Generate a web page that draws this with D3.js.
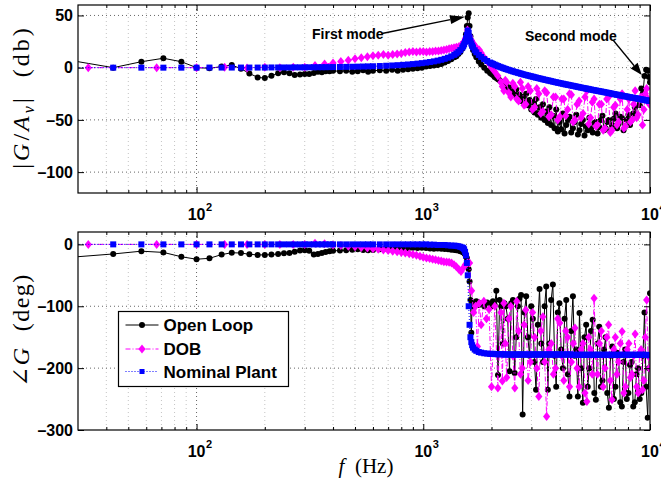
<!DOCTYPE html>
<html lang="en">
<head>
<meta charset="utf-8">
<title>Bode plot: Open Loop / DOB / Nominal Plant</title>
<script src="https://cdn.jsdelivr.net/npm/d3@7"></script>
<style>
  body { margin: 0; background: #fff; }
  svg text { font-family: "Liberation Sans", Arial, sans-serif; }
  .tick text { font-size: 16px; font-weight: bold; fill: #000; }
  .math { font-family: "Liberation Serif", "DejaVu Serif", serif; }
</style>
</head>
<body>
<script>
// frequency grid of the open loop measurement and nominal model (Hz)
const freqPlant = [28.6, 42.9, 57.1, 71.4, 85.7, 100, 114, 129, 143, 157,
  171, 186, 200, 214, 229, 243, 257, 271, 286, 300,
  314, 329, 343, 357, 371, 386, 400, 429, 457, 486,
  514, 543, 571, 600, 643, 686, 729, 771, 814, 857,
  900, 943, 986, 1029, 1071, 1114, 1157, 1200, 1243, 1286,
  1329, 1371, 1400, 1429, 1457, 1486, 1500, 1514, 1529, 1543,
  1557, 1571, 1586, 1600, 1614, 1629, 1643, 1657, 1686, 1714,
  1757, 1800, 1857, 1914,
  1971, 2000, 2029, 2064, 2100, 2136, 2171, 2207, 2243, 2279,
  2314, 2357, 2400, 2443, 2486, 2529, 2571, 2614, 2657, 2700,
  2743, 2793, 2843, 2893, 2943, 2993, 3043, 3093, 3143, 3200,
  3257, 3314, 3371, 3429, 3486, 3543, 3600, 3664, 3729, 3793,
  3857, 3921, 3986, 4057, 4129, 4200, 4271, 4343, 4414, 4493,
  4571, 4650, 4729, 4807, 4886, 4971, 5057, 5143, 5229, 5314,
  5400, 5493, 5586, 5679, 5771, 5871, 5971, 6071, 6171, 6271,
  6371, 6479, 6586, 6700, 6814, 6929, 7043, 7157, 7271, 7393,
  7514, 7643, 7771, 7900, 8029, 8164, 8300, 8436, 8571, 8714,
  8857, 9007, 9157, 9307, 9457, 9614, 9771, 9886, 10000];

// |G/Av| in dB
const magOpen = [6.5, 0, 5.7, 9, 5.7, 0, -0.6, 1, 2.5, -1,
  -5.5, -9.3, -10, -7.7, -5.4, -4.5, -5.4, -7, -6.5, -6,
  -6, -5, -4, -4.5, -3.5, -3.5, -3, -3.5, -3, -4,
  -3.5, -2.5, -4, -3, -2.5, -3, -2, -3, -2, -1.5,
  -1, -0.5, 0, 1, 1.5, 2, 2.5, 3.5, 5, 6.5,
  8, 10, 11, 13, 15, 18, 20, 22, 26, 32,
  40, 48, 52, 40, 30, 24, 20, 17, 13, 10,
  6, 3, 0, -3,
  -5, -6, -7, -9, -10, -11, -12, -13.5, -14, -17,
  -16, -20, -19, -23, -22, -26, -21, -29, -26, -32,
  -28, -34, -25, -36, -31, -40, -33, -43, -30, -45,
  -38, -48, -35, -50, -42, -53, -38, -55, -46, -58,
  -40, -61, -52, -59, -44, -63, -55, -50, -47, -62,
  -58, -52, -45, -64, -60, -54, -50, -65, -56, -60,
  -48, -58, -62, -53, -52, -63, -57, -50, -46, -60,
  -58, -52, -50, -61, -55, -49, -44, -58, -54, -47,
  -48, -60, -56, -50, -45, -55, -50, -44, -38, -45,
  -30, -36, -20, -25, -8, -2, -3, -9, -14];

const magNom = [0, 0, 0, 0, 0, 0, 0.1, 0.1, 0.1, 0.1,
  0.1, 0.1, 0.1, 0.2, 0.2, 0.2, 0.2, 0.3, 0.3, 0.3,
  0.35, 0.4, 0.42, 0.45, 0.5, 0.55, 0.58, 0.67, 0.76, 0.87,
  0.98, 1.1, 1.22, 1.36, 1.58, 1.83, 2.09, 2.38, 2.7, 3.05,
  3.43, 3.86, 4.32, 4.84, 5.39, 6.02, 6.74, 7.54, 8.48, 9.54,
  10.8, 12.3, 13.6, 15.1, 16.8, 19.2, 20.6, 22.4, 24.8, 27.9,
  31.2, 35.6, 33.5, 28.9, 25.6, 23.1, 21.1, 19.4, 16.7, 14.7,
  12.2, 10.3, 8.2, 6.4,
  4.9, 4.2, 3.6, 2.9, 2.2, 1.5, 0.9, 0.3, -0.2, -0.8,
  -1.3, -1.9, -2.4, -3.0, -3.5, -4.0, -4.4, -4.9, -5.3, -5.8,
  -6.2, -6.7, -7.1, -7.5, -7.9, -8.3, -8.7, -9.1, -9.5, -9.9,
  -10.3, -10.7, -11.1, -11.5, -11.8, -12.2, -12.5, -12.9, -13.3, -13.7,
  -14.0, -14.4, -14.7, -15.1, -15.4, -15.8, -16.1, -16.4, -16.7, -17.1,
  -17.4, -17.7, -18.1, -18.4, -18.7, -19.1, -19.4, -19.7, -20.0, -20.3,
  -20.6, -21.0, -21.3, -21.6, -21.9, -22.2, -22.5, -22.8, -23.1, -23.4,
  -23.7, -24.0, -24.3, -24.6, -25.0, -25.3, -25.6, -25.9, -26.2, -26.5,
  -26.8, -27.1, -27.4, -27.7, -28.0, -28.3, -28.6, -28.9, -29.1, -29.4,
  -29.7, -30.0, -30.3, -30.6, -30.9, -31.2, -31.5, -31.7, -31.9];

// phase in degrees
const phaseOpen = [-20.5, -15.5, -11, -13, -20, -24, -22.5, -16.5, -13.5, -14,
  -16, -17, -17, -16.5, -15.5, -14.5, -14, -12, -10, -9.5,
  -10.5, -16.5, -15.5, -14, -12.5, -11, -10.5, -10, -9.5, -8.5,
  -8, -9, -9.5, -9, -8, -7, -6.5, -7, -6, -6.5,
  -5.5, -6, -5.5, -6, -6.5, -7, -6.5, -7, -7.5, -8,
  -8.5, -9, -9.5, -10, -11, -12, -13, -14, -16, -20,
  -22, -28, -40, -60, -90, -143, -95, -100, -96, -92,
  -98, -95, -100, -94,
  -96, -100, -92, -98, -75, -211, -90, -100, -160, -95,
  -100, -120, -205, -95, -90, -208, -150, -100, -88, -82,
  -275, -110, -84, -150, -180, -100, -120, -190, -235, -130,
  -72, -160, -190, -100, -68, -235, -160, -90, -65, -180,
  -230, -110, -95, -170, -200, -120, -90, -210, -246, -140,
  -84, -180, -170, -246, -111, -200, -256, -150, -130, -230,
  -200, -140, -122, -240, -251, -160, -133, -230, -220, -170,
  -150, -240, -264, -180, -165, -250, -230, -175, -180, -255,
  -262, -190, -170, -250, -240, -195, -190, -262, -255, -210,
  -200, -250, -240, -180, -110, -230, -280, -200, -79];

const phaseNom = [0, 0, 0, 0, 0, 0, 0, 0, 0, 0,
  0, 0, 0, 0, 0, 0, 0, 0, 0, 0,
  0, 0, 0, 0, 0, 0, 0, 0, 0, 0,
  0, 0, 0, 0, 0, 0, 0, 0, 0, 0,
  0, 0, 0, 0, -0.5, -0.5, -1, -1, -1, -1.5,
  -2, -2, -2.5, -3, -4, -5, -6, -8, -12, -18,
  -30, -50, -100, -130, -150, -158, -163, -167, -170, -172,
  -174, -175, -176, -176.5,
  -177, -177, -177, -177, -177.5, -177.5, -177.5, -177.5, -177.5, -178,
  -178, -178, -178, -178, -178, -178, -178, -178, -178, -178,
  -178, -178, -178, -178, -178, -178, -178, -178, -178, -178,
  -178, -178, -178, -178, -178, -178, -178, -178, -178, -178,
  -178, -178, -178, -178, -178, -178, -178, -178, -178, -178,
  -178.5, -178.5, -178.5, -178.5, -178.5, -178.5, -178.5, -178.5, -178.5, -178.5,
  -178.5, -178.5, -178.5, -178.5, -178.5, -178.5, -178.5, -178.5, -178.5, -178.5,
  -178.5, -178.5, -178.5, -178.5, -178.5, -178.5, -178.5, -178.5, -178.5, -178.5,
  -178.5, -178.5, -178.5, -178.5, -178.5, -178.5, -178.5, -178.5, -178.5, -178.5,
  -178.5, -178.5, -178.5, -178.5, -178.5, -178.5, -179, -179, -179];

// DOB measurement has its own frequency grid
const freqDob = [33.3, 66.7, 100, 133, 167, 200, 233, 267, 300, 333,
  367, 400, 433, 467, 500, 533, 567, 600, 633, 667,
  700, 733, 767, 800, 833, 867, 900, 933, 967, 1000,
  1033, 1067, 1100, 1133, 1167, 1200, 1233, 1267, 1300, 1333,
  1367, 1400, 1433, 1467, 1500, 1533, 1567, 1600, 1633, 1667,
  1700, 1733, 1767, 1800, 1850, 1900, 1950, 2000, 2067, 2133,
  2200, 2233, 2267, 2300, 2333, 2383, 2433, 2483, 2533, 2583,
  2633, 2683, 2733, 2783, 2833, 2900, 2967, 3033, 3100, 3167,
  3233, 3300, 3367, 3433, 3500, 3583, 3667, 3750, 3833, 3917,
  4000, 4083, 4167, 4250, 4333, 4417, 4500, 4583, 4667, 4767,
  4867, 4967, 5067, 5167, 5267, 5367, 5467, 5567, 5667, 5767,
  5867, 5983, 6100, 6217, 6333, 6450, 6567, 6683, 6800, 6917,
  7033, 7150, 7267, 7400, 7533, 7667, 7800, 7933, 8067, 8200,
  8333, 8467, 8600, 8733, 8867, 9000, 9133, 9267, 9400, 9533,
  9667, 9800, 9933];

const magDob = [0, 0, 0, 0.3, -0.3, 0.3, 0, 0.5, 0.5, 2,
  3.5, 4.5, 6, 7, 8.5, 9.5, 10.5, 11.5, 12, 12.5,
  12, 12.5, 13, 13.5, 14.5, 15, 15.5, 15, 15.5, 15.5,
  15, 15.5, 15.5, 16, 16, 16.5, 17, 17.5, 18, 18.5,
  19, 19.5, 20, 21.5, 24, 28, 36, 30, 26, 23,
  20, 18, 17, 14, 10, 7, 4, 0, -4, -8,
  -14, -18, -22, -12, -14, -24, -28, -15, -18, -30,
  -32, -14, -20, -36, -35, -18, -22, -40, -38, -20,
  -25, -44, -42, -22, -24, -47, -45, -28, -28, -50,
  -47, -30, -30, -46, -40, -25, -26, -52, -50, -35,
  -32, -48, -44, -28, -22, -54, -48, -33, -30, -56,
  -55, -35, -35, -60, -58, -30, -28, -62, -60, -38,
  -36, -55, -52, -30, -25, -58, -56, -40, -30, -52,
  -50, -35, -22, -48, -45, -30, -28, -55, -40, -25,
  -20, -30, -35];

const phaseDob = [0, 0, 0, 0, 0, 0, 0, 0, 0, 2,
  1, -1, -2, -3, -4, -5, -6, -7, -8, -9,
  -10, -11, -12, -13, -14, -15, -16.5, -17.5, -19, -21,
  -22, -23, -24, -25, -26, -27, -28, -28.5, -29, -30,
  -33, -36, -40, -44, -38, -33, -30, -30, -75, -110,
  -100, -165, -95, -130, -92, -120, -105, -230, -100, -232,
  -110, -221, -95, -160, -215, -120, -100, -180, -232, -92,
  -140, -210, -200, -130, -106, -220, -190, -110, -150, -200,
  -246, -140, -117, -190, -278, -170, -160, -210, -200, -120,
  -127, -180, -220, -140, -150, -230, -190, -160, -135, -200,
  -230, -170, -160, -240, -254, -150, -170, -210, -87, -180,
  -210, -160, -140, -230, -200, -150, -130, -220, -251, -170,
  -150, -210, -190, -160, -141, -240, -230, -170, -160, -215,
  -210, -180, -145, -230, -240, -175, -170, -235, -220, -150,
  -90, -180, -200];

const magTicks = [50, 0, -50, -100];
const phaseTicks = [0, -100, -200, -300];
const decadeTicks = [100, 1000, 10000];
const seriesNames = ["Open Loop", "DOB", "Nominal Plant"];

// ----------------------------------------------------------------
const W = 661, H = 479;
const left = 78, right = 650;

const svg = d3.select("body").append("svg")
  .attr("width", W).attr("height", H);

const x = d3.scaleLog().domain([30, 10000]).range([left, right]);

const plant = freqPlant.map((f, i) => ({
  f, mo: magOpen[i], mn: magNom[i], po: phaseOpen[i], pn: phaseNom[i]
}));
const dob = freqDob.map((f, i) => ({ f, m: magDob[i], p: phaseDob[i] }));

// minor decade positions (2..9 x 10^k) inside the range
const minorX = [];
for (let d = 10; d < 10000; d *= 10) {
  for (let k = 2; k <= 9; k++) {
    const v = d * k;
    if (v > 30 && v < 10000) minorX.push(v);
  }
}

const diamond = "M0,-4.5L3.6,0L0,4.5L-3.6,0Z";

function fmtTick(d) {
  return d < 0 ? "\u2013" + Math.abs(d) : String(d);
}

function drawPanel(cfg) {
  const y = d3.scaleLinear().domain(cfg.domain).range([cfg.bottom, cfg.top]);
  const g = svg.append("g");

  const clipId = "clip-" + cfg.name;
  svg.append("clipPath").attr("id", clipId)
    .append("rect")
    .attr("x", left).attr("y", cfg.top)
    .attr("width", right - left).attr("height", cfg.bottom - cfg.top);

  // grid
  g.selectAll(".gminor").data(minorX).join("line")
    .attr("class", "gminor")
    .attr("x1", d => x(d)).attr("x2", d => x(d))
    .attr("y1", cfg.top).attr("y2", cfg.bottom)
    .attr("stroke", "#c4c4c4").attr("stroke-dasharray", "1,3");
  g.selectAll(".gmajor").data([100, 1000]).join("line")
    .attr("class", "gmajor")
    .attr("x1", d => x(d)).attr("x2", d => x(d))
    .attr("y1", cfg.top).attr("y2", cfg.bottom)
    .attr("stroke", "#666").attr("stroke-dasharray", "1,3");
  g.selectAll(".gy").data(cfg.ticks.filter(t => y(t) > cfg.top + 1 && y(t) < cfg.bottom - 1)).join("line")
    .attr("class", "gy")
    .attr("x1", left).attr("x2", right)
    .attr("y1", d => y(d)).attr("y2", d => y(d))
    .attr("stroke", "#666").attr("stroke-dasharray", "1,3");

  // data
  const area = g.append("g").attr("clip-path", `url(#${clipId})`);

  const lineOpen = d3.line().x(d => x(d.f)).y(d => y(d[cfg.keyOpen]));
  const lineDob = d3.line().x(d => x(d.f)).y(d => y(d[cfg.keyDob]));
  const lineNom = d3.line().x(d => x(d.f)).y(d => y(d[cfg.keyNom]));

  area.append("path").datum(plant).attr("d", lineOpen)
    .attr("fill", "none").attr("stroke", "#000").attr("stroke-width", 1);
  area.selectAll(".mo").data(plant).join("circle")
    .attr("class", "mo")
    .attr("cx", d => x(d.f)).attr("cy", d => y(d[cfg.keyOpen]))
    .attr("r", 3).attr("fill", "#000");

  area.append("path").datum(dob).attr("d", lineDob)
    .attr("fill", "none").attr("stroke", "#ff00ff").attr("stroke-width", 1)
    .attr("stroke-dasharray", "5,2,1,2");
  area.selectAll(".md").data(dob).join("path")
    .attr("class", "md")
    .attr("transform", d => `translate(${x(d.f)},${y(d[cfg.keyDob])})`)
    .attr("d", diamond).attr("fill", "#ff00ff");

  area.append("path").datum(plant).attr("d", lineNom)
    .attr("fill", "none").attr("stroke", "#0000ff").attr("stroke-width", 1)
    .attr("stroke-dasharray", "1,2");
  area.selectAll(".mn").data(plant).join("rect")
    .attr("class", "mn")
    .attr("x", d => x(d.f) - 3).attr("y", d => y(d[cfg.keyNom]) - 3)
    .attr("width", 6).attr("height", 6).attr("fill", "#0000ff");

  // inward ticks on all four sides
  const tick = (axis, tr) => g.append("g").attr("transform", tr).call(axis)
    .call(s => s.select(".domain").remove());
  tick(d3.axisBottom(x).tickValues(decadeTicks).tickSize(-6).tickFormat(""), `translate(0,${cfg.bottom})`);
  tick(d3.axisBottom(x).tickValues(minorX).tickSize(-3).tickFormat(""), `translate(0,${cfg.bottom})`);
  tick(d3.axisTop(x).tickValues(decadeTicks).tickSize(-6).tickFormat(""), `translate(0,${cfg.top})`);
  tick(d3.axisTop(x).tickValues(minorX).tickSize(-3).tickFormat(""), `translate(0,${cfg.top})`);
  tick(d3.axisLeft(y).tickValues(cfg.ticks).tickSize(-6).tickPadding(5).tickFormat(fmtTick), `translate(${left},0)`);
  tick(d3.axisRight(y).tickValues(cfg.ticks).tickSize(-6).tickFormat(""), `translate(${right},0)`);

  // decade labels 10^n
  const lab = g.selectAll(".xl").data(decadeTicks).join("g")
    .attr("class", "xl")
    .attr("transform", d => `translate(${x(d)},${cfg.bottom + cfg.labelDy})`);
  lab.append("text").attr("text-anchor", "middle")
    .style("font-size", "16px").style("font-weight", "bold")
    .text("10");
  lab.append("text").attr("x", 9.5).attr("y", -9)
    .style("font-size", "11px").style("font-weight", "bold")
    .text(d => Math.round(Math.log10(d)));

  // box
  g.append("rect")
    .attr("x", left).attr("y", cfg.top)
    .attr("width", right - left).attr("height", cfg.bottom - cfg.top)
    .attr("fill", "none").attr("stroke", "#000").attr("stroke-width", 1.2);

  return y;
}

const yMag = drawPanel({
  name: "mag", top: 5, bottom: 193, domain: [-120, 60], ticks: magTicks,
  keyOpen: "mo", keyDob: "m", keyNom: "mn", labelDy: 27
});
const yPh = drawPanel({
  name: "ph", top: 232, bottom: 430, domain: [-300, 20], ticks: phaseTicks,
  keyOpen: "po", keyDob: "p", keyNom: "pn", labelDy: 27
});

// axis titles
const yl1 = svg.append("text").attr("class", "math")
  .attr("transform", "translate(29,97) rotate(-90)")
  .attr("text-anchor", "middle")
  .style("font-size", "24px").style("letter-spacing", "3px");
yl1.append("tspan").text("|");
yl1.append("tspan").style("font-style", "italic").text("G");
yl1.append("tspan").text("/");
yl1.append("tspan").style("font-style", "italic").text("A");
yl1.append("tspan").style("font-style", "italic").style("font-size", "16px").attr("dy", 5).text("v");
yl1.append("tspan").attr("dy", -5).text("|\u00a0 (db)");

const yl2 = svg.append("text").attr("class", "math")
  .attr("transform", "translate(29,330) rotate(-90)")
  .attr("text-anchor", "middle")
  .style("font-size", "24px").style("letter-spacing", "1.5px");
yl2.append("tspan").text("\u2220");
yl2.append("tspan").style("font-style", "italic").text("G");
yl2.append("tspan").text("\u00a0 (deg)");

const xl = svg.append("text").attr("class", "math")
  .attr("x", 366).attr("y", 473).attr("text-anchor", "middle")
  .style("font-size", "21px");
xl.append("tspan").style("font-style", "italic").text("f");
xl.append("tspan").text("\u00a0 (Hz)");

// annotations
function arrow(x1, y1, x2, y2, len, half) {
  const a = Math.atan2(y2 - y1, x2 - x1);
  const bx = x2 - len * Math.cos(a), by = y2 - len * Math.sin(a);
  svg.append("line").attr("x1", x1).attr("y1", y1).attr("x2", bx).attr("y2", by)
    .attr("stroke", "#000").attr("stroke-width", 1.3);
  const px = -Math.sin(a) * half, py = Math.cos(a) * half;
  svg.append("path")
    .attr("d", `M${x2},${y2}L${bx + px},${by + py}L${bx - px},${by - py}Z`)
    .attr("fill", "#000");
}
svg.append("text").attr("x", 312).attr("y", 38.5)
  .style("font-size", "14px").style("font-weight", "bold").text("First mode");
arrow(382, 33.5, x(1528), yMag(48.8), 15, 4.5);
svg.append("text").attr("x", 525).attr("y", 40.5)
  .style("font-size", "14px").style("font-weight", "bold").text("Second mode");
arrow(613, 40, x(9200), yMag(-7), 12, 4.5);

// legend
const lg = svg.append("g").attr("transform", "translate(118.5,311.5)");
lg.append("rect").attr("width", 170).attr("height", 75)
  .attr("fill", "#fff").attr("stroke", "#000").attr("stroke-width", 1.2);
const rows = lg.selectAll(".lr").data(seriesNames).join("g")
  .attr("class", "lr")
  .attr("transform", (d, i) => `translate(0,${[13.5, 37.5, 60][i]})`);
rows.append("line").attr("x1", 7).attr("x2", 40)
  .attr("stroke", (d, i) => ["#000", "#ff00ff", "#0000ff"][i])
  .attr("stroke-dasharray", (d, i) => [null, "5,2,1,2", "1,2"][i]);
rows.filter((d, i) => i === 0).append("circle").attr("cx", 23.5).attr("r", 3).attr("fill", "#000");
rows.filter((d, i) => i === 1).append("path").attr("transform", "translate(23.5,0)")
  .attr("d", diamond).attr("fill", "#ff00ff");
rows.filter((d, i) => i === 2).append("rect").attr("x", 21).attr("y", -2.5)
  .attr("width", 5).attr("height", 5).attr("fill", "#0000ff");
rows.append("text").attr("x", 45).attr("dy", "0.36em")
  .style("font-size", "17px").style("font-weight", "bold")
  .text(d => d);
</script>
</body>
</html>
